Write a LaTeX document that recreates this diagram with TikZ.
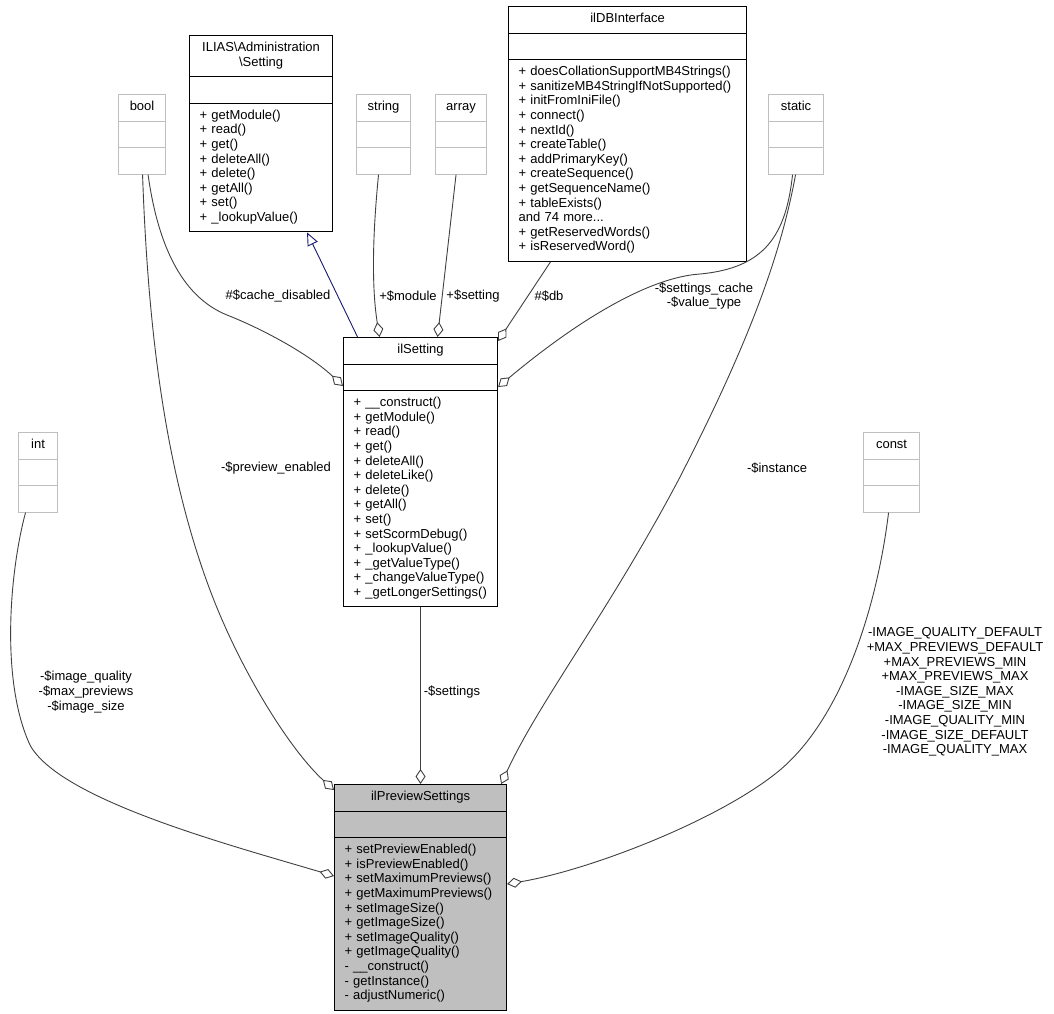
\documentclass[tikz,border=0pt]{standalone}
\usepackage{fontspec}
\setmainfont{Liberation Sans}
\usetikzlibrary{shapes.multipart,arrows.meta,calc}
\definecolor{edgegray}{HTML}{404040}
\definecolor{boxgray}{HTML}{BFBFBF}
\definecolor{inheritblue}{HTML}{191970}
\newcommand{\dgfont}{\fontsize{13}{14.6}\selectfont}
\newcommand{\ctitle}[1]{\hbox to\hsize{\hss\strut#1\hss}}

\begin{document}
\begin{tikzpicture}[x=1pt,y=-1pt,
  cls/.style={draw=black,line width=1.1pt,rectangle split,rectangle split parts=3,
    text width=#1,inner xsep=10pt,inner ysep=5.4pt,align=left,font=\dgfont,anchor=north west},
  ext/.style={cls=#1,draw=boxgray},
  lbl/.style={font=\dgfont,align=center,inner sep=0pt},
  member/.style={draw=edgegray,line width=0.9pt,-{Diamond[open,length=15pt,width=10pt]}},
  inherit/.style={draw=inheritblue,line width=0.9pt,-{Triangle[open,length=13pt,width=11pt]}}]
\useasboundingbox (0,0) rectangle (1054,1013);

% classes
\node[cls=123pt] (iliasSetting) at (189,35) {\ctitle{ILIAS\textbackslash Administration}\par\ctitle{\textbackslash Setting}
  \nodepart{two}\strut
  \nodepart{three}\strut+ getModule()\\+ read()\\+ get()\\+ deleteAll()\\+ delete()\\+ getAll()\\+ set()\\+ \_lookupValue()\strut};
\node[ext=27pt] (bool) at (118,94) {\ctitle{bool}\nodepart{two}\strut\nodepart{three}\strut};
\node[ext=34pt] (string) at (356,94) {\ctitle{string}\nodepart{two}\strut\nodepart{three}\strut};
\node[ext=31pt] (array) at (435,94) {\ctitle{array}\nodepart{two}\strut\nodepart{three}\strut};
\node[cls=218pt] (ilDB) at (508,6) {\ctitle{ilDBInterface}
  \nodepart{two}\strut
  \nodepart{three}\strut+ doesCollationSupportMB4Strings()\\+ sanitizeMB4StringIfNotSupported()\\+ initFromIniFile()\\+ connect()\\+ nextId()\\+ createTable()\\+ addPrimaryKey()\\+ createSequence()\\+ getSequenceName()\\+ tableExists()\\and 74 more...\\+ getReservedWords()\\+ isReservedWord()\strut};
\node[ext=35pt] (static) at (768,94) {\ctitle{static}\nodepart{two}\strut\nodepart{three}\strut};
\node[cls=134pt] (ilSetting) at (343,337) {\ctitle{ilSetting}
  \nodepart{two}\strut
  \nodepart{three}\strut+ \_\_construct()\\+ getModule()\\+ read()\\+ get()\\+ deleteAll()\\+ deleteLike()\\+ delete()\\+ getAll()\\+ set()\\+ setScormDebug()\\+ \_lookupValue()\\+ \_getValueType()\\+ \_changeValueType()\\+ \_getLongerSettings()\strut};
\node[ext=19pt] (int) at (18,432) {\ctitle{int}\nodepart{two}\strut\nodepart{three}\strut};
\node[ext=36pt] (const) at (863,432) {\ctitle{const}\nodepart{two}\strut\nodepart{three}\strut};
\node[cls=152pt,fill=boxgray] (preview) at (334,784) {\ctitle{ilPreviewSettings}
  \nodepart{two}\strut
  \nodepart{three}\strut+ setPreviewEnabled()\\+ isPreviewEnabled()\\+ setMaximumPreviews()\\+ getMaximumPreviews()\\+ setImageSize()\\+ getImageSize()\\+ setImageQuality()\\+ getImageQuality()\\- \_\_construct()\\- getInstance()\\- adjustNumeric()\strut};

% relations
\draw[inherit] ($(ilSetting.north)+(-63,0)$) -- ($(iliasSetting.south)+(46,0)$);
\draw[member] ($(bool.south)+(6,0)$) .. controls (160,260) and (190,300) .. (227,315)
  .. controls (265,330) and (310,355) .. ($(ilSetting.north west)+(0,49)$);
\draw[member] ($(bool.south)+(0.5,0)$) .. controls (148,330) and (165,470) .. (210,590)
  .. controls (240,670) and (290,750) .. ($(preview.north west)+(0,6)$);
\draw[member] ($(string.south)+(-5,0)$) .. controls (372,240) and (372,290) .. ($(ilSetting.north)+(-41,0)$);
\draw[member] ($(array.south)+(-5,0)$) -- ($(ilSetting.north)+(17,0)$);
\draw[member] ($(ilDB.south)+(-77,0)$) -- ($(ilSetting.north east)+(0,4)$);
\draw[member] ($(static.south)+(-3.5,0)$) .. controls (786,235) and (765,268) .. (700,274)
  .. controls (640,278) and (560,335) .. ($(ilSetting.north east)+(0,50)$);
\draw[member] ($(static.south)+(-0.5,0)$) .. controls (780,260) and (745,350) .. (680,477)
  .. controls (610,610) and (540,700) .. ($(preview.north east)+(-6,0)$);
\draw[member] (ilSetting.south) -- (preview.north);
\draw[member] ($(int.south)+(-12.5,0)$) .. controls (10,570) and (0,680) .. (30,745)
  .. controls (60,800) and (230,845) .. ($(preview.north west)+(0,92)$);
\draw[member] ($(const.south)+(-3,0)$) .. controls (878,600) and (845,715) .. (780,770)
  .. controls (720,820) and (590,870) .. ($(preview.north east)+(0,100)$);

% labels
\node[lbl] (lcache) at (278,296) {\#\$cache\_disabled};
\node[lbl] (lmodule) at (408,296) {+\$module};
\node[lbl] (lsetting) at (473,296) {+\$setting};
\node[lbl] (ldb) at (549,296) {\#\$db};
\node[lbl] (lscache) at (704,296) {-\$settings\_cache\\-\$value\_type};
\node[lbl] (lpreview) at (276,468) {-\$preview\_enabled};
\node[lbl] (linstance) at (777,468) {-\$instance};
\node[lbl] (lsettings) at (452,692) {-\$settings};
\node[lbl] (lint) at (86,692) {-\$image\_quality\\-\$max\_previews\\-\$image\_size};
\node[lbl] (lconst) at (955,692) {-IMAGE\_QUALITY\_DEFAULT\\+MAX\_PREVIEWS\_DEFAULT\\+MAX\_PREVIEWS\_MIN\\+MAX\_PREVIEWS\_MAX\\-IMAGE\_SIZE\_MAX\\-IMAGE\_SIZE\_MIN\\-IMAGE\_QUALITY\_MIN\\-IMAGE\_SIZE\_DEFAULT\\-IMAGE\_QUALITY\_MAX};
\end{tikzpicture}
\end{document}
